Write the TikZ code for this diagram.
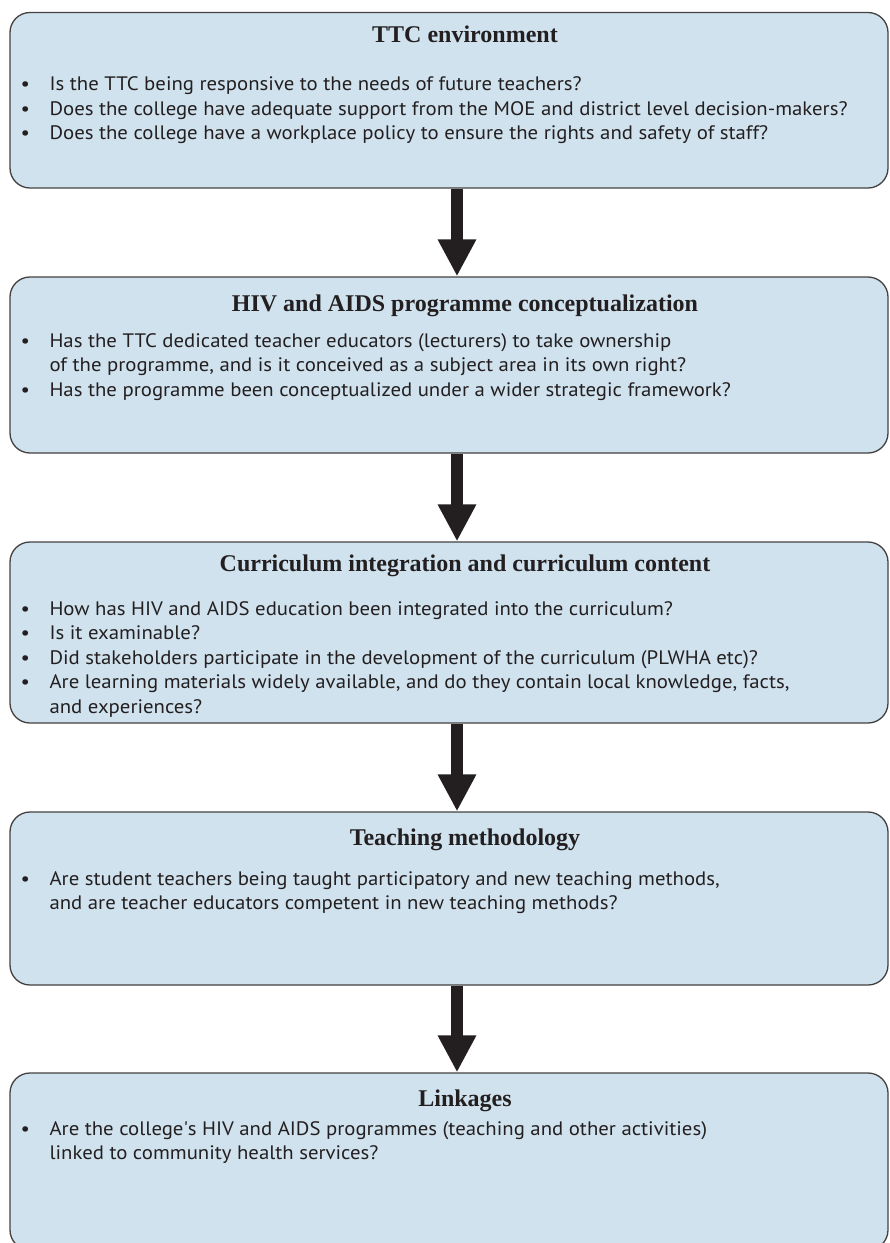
\documentclass[tikz,border=0pt]{standalone}
\usepackage{fontspec}
\setmainfont{PT Sans}[FakeStretch = 1.065]
\newfontfamily\headfont{Liberation Serif}
\usetikzlibrary{positioning, arrows.meta}
\definecolor{boxblue}{RGB}{208,226,238}
\definecolor{ink}{HTML}{231F20}
\newcommand{\qitem}{\makebox[29pt][l]{\textbullet}}
\newcommand{\qcont}{\hspace*{29pt}}

\begin{document}
\begin{tikzpicture}[x = 1pt, y = -1pt]

\tikzset{
question/.style = {rectangle, rounded corners = 20pt, draw = ink!85, line width = 1.3pt, 
	fill = boxblue, minimum width = 878pt, inner sep = 0pt},
heading/.style = {inner sep = 0pt, text = ink, 
	font = \headfont\bfseries\fontsize{24}{28}\selectfont},
items/.style = {inner sep = 0pt, align = left, text = ink, 
	font = \fontsize{19.5}{24.5}\selectfont},
flow/.style = {-{Triangle[width = 36pt, length = 37pt]}, line width = 12pt, draw = ink},
	}

\useasboundingbox (0, 0) rectangle (890, 1243);

%% Boxes
\node at (449, 100.25) [question, minimum height = 175.5pt] (ttc) {};
\node at (449, 365) [question, minimum height = 176pt] (hiv) {};
\node at (449, 632.5) [question, minimum height = 181pt] (curriculum) {};
\node at (449, 898.5) [question, minimum height = 173pt] (teaching) {};
\node at (449, 1161.5) [question, minimum height = 177pt] (linkages) {};

%% Headings
\node [heading, below = 14pt of ttc.north, xshift = 16pt] (ttc-head) {TTC environment};
\node [heading, below = 18pt of hiv.north, xshift = 16pt] (hiv-head) 
	{HIV and AIDS programme conceptualization};
\node [heading, below = 13pt of curriculum.north, xshift = 16pt] (curriculum-head) 
	{Curriculum integration and curriculum content};
\node [heading, below = 17pt of teaching.north, xshift = 16pt] (teaching-head) 
	{Teaching methodology};
\node [heading, below = 17pt of linkages.north, xshift = 16pt] (linkages-head) {Linkages};

%% Questions
\node [items, below right = 65pt and 11pt of ttc.north west] (ttc-items) 
	{\qitem Is the TTC being responsive to the needs of future teachers?\\
	 \qitem Does the college have adequate support from the MOE and district level decision-makers?\\
	 \qitem Does the college have a workplace policy to ensure the rights and safety of staff?};
\node [items, below right = 57pt and 11pt of hiv.north west] (hiv-items) 
	{\qitem Has the TTC dedicated teacher educators (lecturers) to take ownership\\
	 \qcont of the programme, and is it conceived as a subject area in its own right?\\
	 \qitem Has the programme been conceptualized under a wider strategic framework?};
\node [items, below right = 60pt and 11pt of curriculum.north west] (curriculum-items) 
	{\qitem How has HIV and AIDS education been integrated into the curriculum?\\
	 \qitem Is it examinable?\\
	 \qitem Did stakeholders participate in the development of the curriculum (PLWHA etc)?\\
	 \qitem Are learning materials widely available, and do they contain local knowledge, facts,\\
	 \qcont and experiences?};
\node [items, below right = 60pt and 11pt of teaching.north west] (teaching-items) 
	{\qitem Are student teachers being taught participatory and new teaching methods,\\
	 \qcont and are teacher educators competent in new teaching methods?};
\node [items, below right = 49pt and 11pt of linkages.north west] (linkages-items) 
	{\qitem Are the college\textquotesingle s HIV and AIDS programmes (teaching and other activities)\\
	 \qcont linked to community health services?};

%% Arrows
\draw [flow] ([xshift = 8pt]ttc.south) -- ([xshift = 8pt]hiv.north);
\draw [flow] ([xshift = 8pt]hiv.south) -- ([xshift = 8pt]curriculum.north);
\draw [flow] ([xshift = 8pt]curriculum.south) -- ([xshift = 8pt]teaching.north);
\draw [flow] ([xshift = 8pt]teaching.south) -- ([xshift = 8pt]linkages.north);

\end{tikzpicture}
\end{document}
